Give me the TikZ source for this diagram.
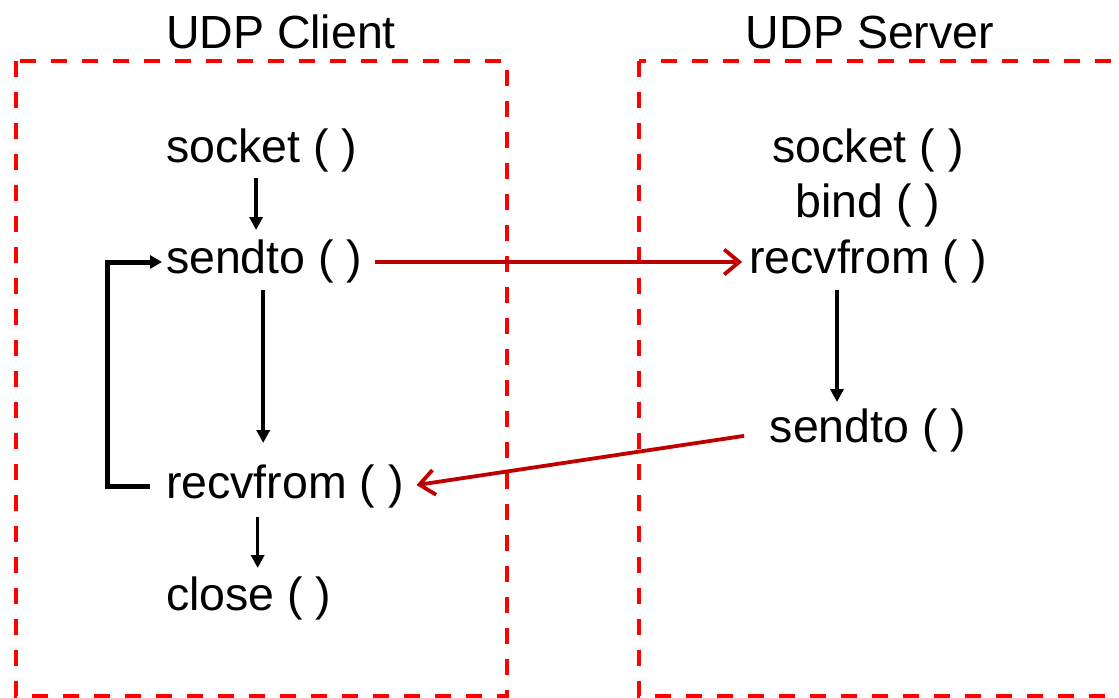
\documentclass[tikz,border=0pt]{standalone}
\usepackage{fontspec}
\setmainfont{Liberation Sans}
\usetikzlibrary{arrows.meta}
\definecolor{boxred}{HTML}{FF0000}
\definecolor{msgred}{HTML}{C00000}
\tikzset{
  fn/.style={inner sep=0pt, outer sep=0pt, text height=34pt, text depth=10pt, font=\fontsize{46.5}{55}\selectfont},
  title/.style={inner sep=0pt, font=\fontsize{46.5}{55}\selectfont},
  hostbox/.style={draw=boxred, line width=4.5pt, dash pattern=on 16pt off 15pt},
  flow/.style={draw=black, line width=3.5pt, -{Triangle[length=13pt,width=13pt]}},
  loopflow/.style={draw=black, line width=5pt, -{Triangle[length=12pt,width=13pt]}},
  msg/.style={draw=msgred, line width=3.8pt, -{Straight Barb[length=15pt,width=25pt,line width=3.8pt]}},
}
\begin{document}
\begin{tikzpicture}[x=1pt,y=-1pt]
\useasboundingbox (0,0) rectangle (1119,698);
\clip (0,0) rectangle (1119,698);
\fill[white] (0,0) rectangle (1119,698);

% host boxes
\draw[hostbox] (16,61) rectangle (507,696);
\draw[hostbox] (639,61) rectangle (1170,696);

% titles
\node[title, anchor=base] (tclient) at (281,49) {UDP Client};
\node[title, anchor=base] (tserver) at (870,49) {UDP Server};

% client calls
\node[fn, anchor=base west] (csock)  at (166,162) {socket ( )};
\node[fn, anchor=base west] (csend)  at (166,273) {sendto ( )};
\node[fn, anchor=base west] (crecv)  at (166,498) {recvfrom ( )};
\node[fn, anchor=base west] (cclose) at (166,610) {close ( )};

% server calls
\node[fn, anchor=base] (ssock) at (868,162) {socket ( )};
\node[fn, anchor=base] (sbind) at (868,217) {bind ( )};
\node[fn, anchor=base] (srecv) at (868,273) {recvfrom ( )};
\node[fn, anchor=base] (ssend) at (868,442) {sendto ( )};

% client flow
\draw[flow, shorten <=6pt, shorten >=9pt]
  ([xshift=-5.5pt]csock.south) -- ([xshift=-5.5pt]csock.south |- csend.north);
\draw[flow, shorten <=7pt, shorten >=21pt]
  ([xshift=-1pt]csend.south) -- ([xshift=-1pt]csend.south |- crecv.north);
\draw[flow, shorten <=9pt, shorten >=8pt]
  ([xshift=9pt]cclose.north |- crecv.south) -- ([xshift=9pt]cclose.north);

% loop back
\draw[loopflow]
  ([xshift=-16pt,yshift=12pt]crecv.base west) -- ++(-43,0)
  |- ([xshift=-4pt,yshift=11pt]csend.base west);

% server flow
\draw[flow, shorten <=7pt, shorten >=6pt]
  ([xshift=-31pt]srecv.south) -- ([xshift=-31pt]srecv.south |- ssend.north);

% messages
\draw[msg, shorten <=13pt, shorten >=7pt]
  ([yshift=11pt]csend.base east) -- ([yshift=11pt]csend.base east -| srecv.west);
\draw[msg, shorten <=26pt, shorten >=13pt]
  ([yshift=10pt]ssend.base west) -- ([yshift=11pt]crecv.base east);
\end{tikzpicture}
\end{document}
